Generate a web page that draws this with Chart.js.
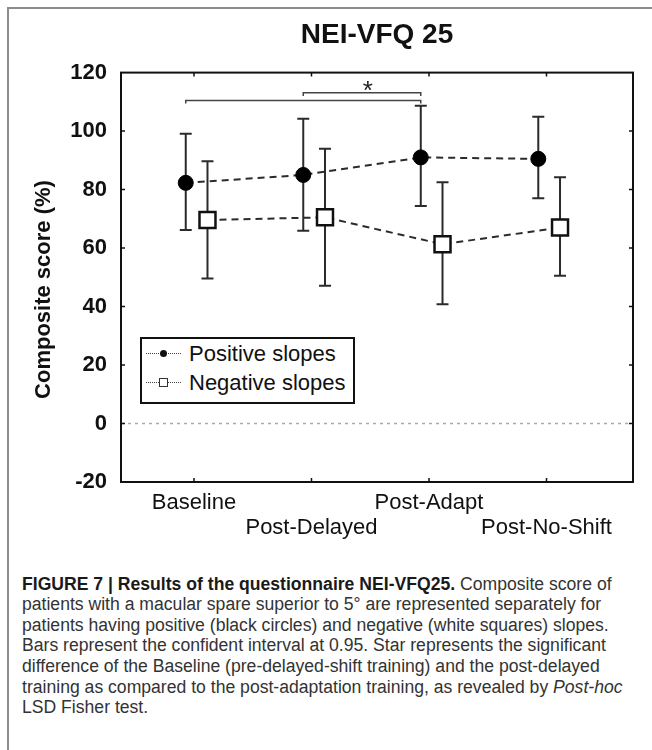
<!DOCTYPE html>
<html>
<head>
<meta charset="utf-8">
<script src="https://cdn.jsdelivr.net/npm/chart.js@4.4.0/dist/chart.umd.min.js"></script>
<style>
  body { margin: 0; background: #fff; font-family: 'Liberation Sans', Arial, sans-serif; }
  #page { position: relative; width: 652px; height: 750px; overflow: hidden; }
  #frameLeft { position: absolute; left: 7px; top: 7px; width: 2px; height: 743px; background: #8c8c8c; }
  #frameTop { position: absolute; left: 7px; top: 7px; width: 645px; height: 2px; background: #8c8c8c; }
  #chart { position: absolute; left: 0; top: 0; }
  #legend { position: absolute; left: 140px; top: 337px; width: 211px; height: 63px; border: 2px solid #111; background: #fff; }
  #legend .row { position: absolute; left: 0; height: 0; }
  #legend .dots { position: absolute; left: 4px; top: -1px; width: 35px; border-top: 1.5px dotted #444; }
  #legend .dot { position: absolute; left: 18px; top: -4px; width: 7px; height: 7px; border-radius: 50%; background: #111; }
  #legend .sq { position: absolute; left: 17px; top: -5px; width: 7px; height: 7px; border: 1.2px solid #333; background: #fff; }
  #legend .txt { position: absolute; left: 47px; top: -13px; font-size: 22px; line-height: 26px; white-space: nowrap; color: #111; }
  #caption { position: absolute; left: 22px; top: 573.7px; font-size: 17.6px; line-height: 20.6px; color: #333; white-space: nowrap; }
  #caption b { color: #1a1a1a; }
</style>
</head>
<body>
<div id="page">
  <div id="frameLeft"></div>
  <div id="frameTop"></div>
  <canvas id="chart" width="652" height="545"></canvas>
  <div id="legend">
    <div class="row" style="top:15px"><span class="dots"></span><span class="dot"></span><span class="txt">Positive slopes</span></div>
    <div class="row" style="top:44px"><span class="dots"></span><span class="sq"></span><span class="txt">Negative slopes</span></div>
  </div>
  <div id="caption">
    <b>FIGURE 7 | Results of the questionnaire NEI-VFQ25.</b> Composite score of<br>
    patients with a macular spare superior to 5° are represented separately for<br>
    patients having positive (black circles) and negative (white squares) slopes.<br>
    Bars represent the confident interval at 0.95. Star represents the significant<br>
    difference of the Baseline (pre-delayed-shift training) and the post-delayed<br>
    training as compared to the post-adaptation training, as revealed by <i>Post-hoc</i><br>
    LSD Fisher test.
  </div>
</div>
<script>
const categories = ['Baseline', 'Post-Delayed', 'Post-Adapt', 'Post-No-Shift'];

// black circles (positive slopes)
const positiveMean = [82.3, 85.0, 91.0, 90.5];
const positiveLow = [66.2, 65.9, 74.4, 77.0];
const positiveHigh = [99.1, 104.2, 108.7, 104.9];

// white squares (negative slopes)
const negativeMean = [69.6, 70.5, 61.3, 67.0];
const negativeLow = [49.6, 47.1, 40.8, 50.5];
const negativeHigh = [89.7, 94.0, 82.5, 84.2];

const yTicks = [-20, 0, 20, 40, 60, 80, 100, 120];

// significance brackets: from / to category, level; star position
const bracketStart = [1, 2];
const bracketEnd = [3, 3];
const bracketLevel = [110.5, 113.1];
const starPos = [2.48, 115.9];

const posShift = -0.07;
const negShift = 0.115;
const xMin = 0.379;
const xMax = 4.736;

const fontFamily = "'Liberation Sans', Arial, sans-serif";

const errorBars = {
  id: 'errorBars',
  beforeDatasetsDraw(chart) {
    const { ctx, scales: { x, y } } = chart;
    ctx.save();
    ctx.strokeStyle = '#2b2b2b';
    ctx.lineWidth = 2;
    [[posShift, positiveLow, positiveHigh], [negShift, negativeLow, negativeHigh]].forEach(([shift, lo, hi]) => {
      lo.forEach((v, i) => {
        const px = x.getPixelForValue(i + 1 + shift);
        const y1 = y.getPixelForValue(v);
        const y2 = y.getPixelForValue(hi[i]);
        ctx.beginPath();
        ctx.moveTo(px, y1); ctx.lineTo(px, y2);
        ctx.moveTo(px - 6, y1); ctx.lineTo(px + 6, y1);
        ctx.moveTo(px - 6, y2); ctx.lineTo(px + 6, y2);
        ctx.stroke();
      });
    });
    ctx.restore();
  }
};

const plotFrame = {
  id: 'plotFrame',
  afterDatasetsDraw(chart) {
    const { ctx, chartArea: a, scales: { x, y } } = chart;
    ctx.save();
    ctx.strokeStyle = '#111';
    ctx.lineWidth = 2;
    ctx.strokeRect(a.left, a.top, a.width, a.height);

    // small inward ticks on all four sides
    ctx.lineWidth = 1.5;
    ctx.beginPath();
    yTicks.slice(1, -1).forEach(v => {
      const py = y.getPixelForValue(v);
      ctx.moveTo(a.left, py); ctx.lineTo(a.left + 4, py);
      ctx.moveTo(a.right, py); ctx.lineTo(a.right - 4, py);
    });
    categories.forEach((c, i) => {
      const px = x.getPixelForValue(i + 1);
      ctx.moveTo(px, a.bottom); ctx.lineTo(px, a.bottom - 4);
      ctx.moveTo(px, a.top); ctx.lineTo(px, a.top + 4);
    });
    ctx.stroke();

    // brackets + star
    ctx.strokeStyle = '#444';
    ctx.lineWidth = 1.5;
    bracketLevel.forEach((lvl, i) => {
      const x1 = x.getPixelForValue(bracketStart[i] + posShift);
      const x2 = x.getPixelForValue(bracketEnd[i] + posShift);
      const yy = y.getPixelForValue(lvl);
      const yd = y.getPixelForValue(lvl - 1.1);
      ctx.beginPath();
      ctx.moveTo(x1, yd); ctx.lineTo(x1, yy); ctx.lineTo(x2, yy); ctx.lineTo(x2, yd);
      ctx.stroke();
    });
    ctx.fillStyle = '#222';
    ctx.font = '26px ' + fontFamily;
    ctx.textAlign = 'center';
    ctx.textBaseline = 'alphabetic';
    ctx.fillText('*', x.getPixelForValue(starPos[0]), y.getPixelForValue(starPos[1]) + 0.57 * 26);
    ctx.restore();
  }
};

new Chart(document.getElementById('chart'), {
  type: 'scatter',
  data: {
    datasets: [
      {
        label: 'Positive slopes',
        data: positiveMean.map((v, i) => ({ x: i + 1 + posShift, y: v })),
        showLine: true,
        borderColor: '#2b2b2b',
        borderWidth: 2,
        borderDash: [7, 5],
        pointStyle: 'circle',
        pointRadius: 7.5,
        pointBackgroundColor: '#000',
        pointBorderColor: '#000',
        pointBorderWidth: 1
      },
      {
        label: 'Negative slopes',
        data: negativeMean.map((v, i) => ({ x: i + 1 + negShift, y: v })),
        showLine: true,
        borderColor: '#2b2b2b',
        borderWidth: 2,
        borderDash: [7, 5],
        pointStyle: 'rect',
        pointRadius: 11.3,
        pointBackgroundColor: '#fff',
        pointBorderColor: '#111',
        pointBorderWidth: 2.5
      },
      {
        label: 'zero',
        data: [{ x: xMin, y: 0 }, { x: xMax, y: 0 }],
        showLine: true,
        borderColor: '#aaaaaa',
        borderWidth: 1.5,
        borderDash: [3, 4],
        pointRadius: 0
      }
    ]
  },
  options: {
    responsive: false,
    animation: false,
    layout: { padding: { left: 0, right: 19, top: 0, bottom: 0 } },
    plugins: {
      legend: { display: false },
      tooltip: { enabled: false },
      title: {
        display: true,
        text: 'NEI-VFQ 25',
        fullSize: false,
        color: '#111',
        font: { family: fontFamily, size: 28, weight: 'bold' },
        padding: { top: 18, bottom: 21 }
      }
    },
    scales: {
      x: {
        type: 'linear',
        min: xMin,
        max: xMax,
        afterBuildTicks: s => { s.ticks = categories.map((c, i) => ({ value: i + 1 })); },
        afterFit: s => { s.height = 63; },
        grid: { display: false, drawTicks: false },
        border: { display: false },
        ticks: {
          autoSkip: false,
          maxRotation: 0,
          minRotation: 0,
          padding: 8.5,
          color: '#111',
          font: { family: fontFamily, size: 22, lineHeight: 25 / 22 },
          callback: v => {
            const i = Math.round(v) - 1;
            return i % 2 === 0 ? [categories[i], ''] : ['', categories[i]];
          }
        }
      },
      y: {
        min: -20,
        max: 120,
        afterBuildTicks: s => { s.ticks = yTicks.map(v => ({ value: v })); },
        afterFit: s => { s.width = 121; },
        grid: { display: false, drawTicks: false },
        border: { display: false },
        ticks: {
          padding: 14,
          color: '#111',
          font: { family: fontFamily, size: 22, weight: 'bold' }
        },
        title: {
          display: true,
          text: 'Composite score (%)    ',
          color: '#111',
          font: { family: fontFamily, size: 22, weight: 'bold' },
          padding: { top: 31, bottom: 0 }
        }
      }
    }
  },
  plugins: [errorBars, plotFrame]
});
</script>
</body>
</html>
